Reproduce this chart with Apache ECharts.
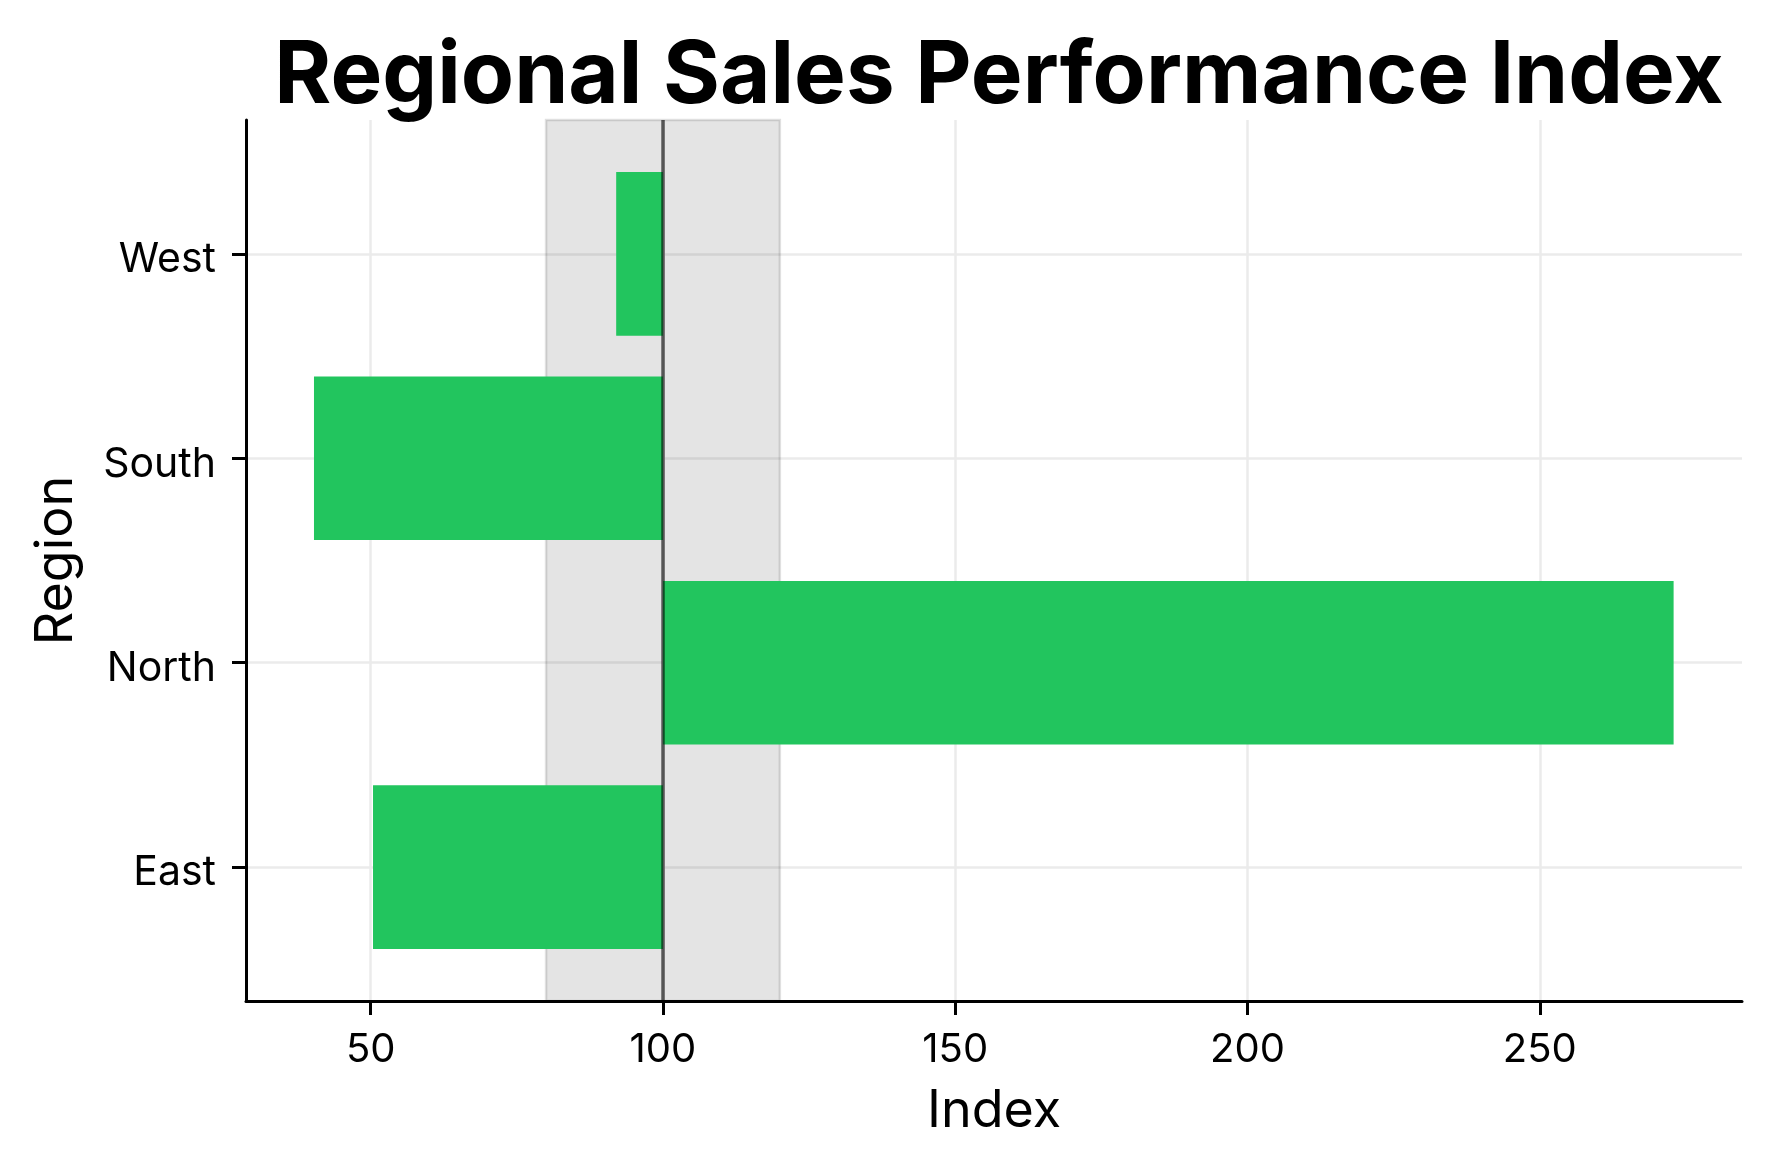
<!DOCTYPE html>
<html>
<head>
<meta charset="utf-8">
<title>Regional Sales Performance Index</title>
<script src="https://cdn.jsdelivr.net/npm/echarts@6/dist/echarts.min.js"></script>
<style>
html,body{margin:0;padding:0;background:#fff;}
#main{width:1772px;height:1169px;}
</style>
</head>
<body>
<div id="main"></div>
<script>
// data
var regions = ['East', 'North', 'South', 'West'];
var indexValues = [50.4, 272.9, 40.3, 92.0];
var baseline = 100;
var bandRange = [80, 120];
var xTicks = [50, 100, 150, 200, 250];
var yTicks = [0, 1, 2, 3];

var FONT = 'Inter, "Open Sans", sans-serif';

var myChart = echarts.init(document.getElementById('main'), null, {renderer: 'canvas'});

// bar rows [value, category index]
var barData = [];
for (var i = 0; i < regions.length; i++) {
	barData.push([indexValues[i], i]);
}

// bars grow from the baseline (100), not from the axis start
function renderBar(params, api) {
	var v = api.value(0);
	var y = api.value(1);
	var start = api.coord([baseline, y]);
	var end = api.coord([v, y]);
	var h = api.size([0, 0.8])[1];
	return {
		type: 'rect',
		shape: {
			x: Math.min(start[0], end[0]),
			y: start[1] - h / 2,
			width: Math.abs(end[0] - start[0]),
			height: h
		},
		style: api.style()
	};
}

var option = {
	backgroundColor: '#ffffff',
	animation: false,
	title: {
		text: 'Regional Sales Performance Index',
		left: 994,
		textAlign: 'center',
		top: 28,
		textStyle: {
			fontFamily: FONT,
			fontWeight: 'bold',
			fontSize: 87,
			color: '#000'
		}
	},
	grid: {
		left: 246,
		right: 30,
		top: 120,
		bottom: 168,
		containLabel: false
	},
	xAxis: {
		type: 'value',
		min: 28.67,
		max: 284.6,
		name: 'Index',
		nameLocation: 'middle',
		nameGap: 84,
		nameTextStyle: {fontFamily: FONT, fontSize: 52, color: '#000'},
		axisLine: {show: true, onZero: false, lineStyle: {color: '#000', width: 3}},
		axisTick: {show: true, length: 14, lineStyle: {color: '#000', width: 3}, customValues: xTicks},
		axisLabel: {
			fontFamily: FONT, fontSize: 40, color: '#000', margin: 29,
			customValues: xTicks
		},
		splitLine: {show: true, lineStyle: {color: '#ebebeb', width: 2.5}}
	},
	yAxis: {
		type: 'value',
		min: -0.655,
		max: 3.655,
		name: 'Region',
		nameLocation: 'middle',
		nameGap: 164,
		nameRotate: 90,
		nameTextStyle: {fontFamily: FONT, fontSize: 52, color: '#000'},
		axisLine: {show: true, onZero: false, lineStyle: {color: '#000', width: 3}},
		axisTick: {show: true, length: 14, lineStyle: {color: '#000', width: 3}, customValues: yTicks},
		axisLabel: {
			color: '#000', margin: 30,
			customValues: yTicks,
			formatter: function (v) { return '{r|' + regions[Math.round(v)] + '}'; },
			rich: {
				r: {fontFamily: FONT, fontSize: 41, color: '#000', padding: [12, 0, 0, 0]}
			}
		},
		splitLine: {show: true, lineStyle: {color: '#ebebeb', width: 2.5}}
	},
	series: [
		{
			// shaded target band
			name: 'band',
			type: 'line',
			data: [],
			z: 1,
			silent: true,
			markArea: {
				silent: true,
				itemStyle: {
					color: 'rgba(0,0,0,0.105)',
					borderColor: 'rgba(0,0,0,0.12)',
					borderWidth: 2.5
				},
				data: [[{xAxis: bandRange[0]}, {xAxis: bandRange[1]}]]
			}
		},
		{
			name: 'Index',
			type: 'custom',
			renderItem: renderBar,
			encode: {x: 0, y: 1},
			data: barData,
			z: 2,
			itemStyle: {color: '#22c55e'}
		},
		{
			// baseline marker
			name: 'baseline',
			type: 'line',
			data: [],
			z: 3,
			silent: true,
			markLine: {
				silent: true,
				symbol: ['none', 'none'],
				label: {show: false},
				lineStyle: {color: 'rgba(0,0,0,0.6)', width: 3.5, type: 'solid'},
				data: [{xAxis: baseline}]
			}
		}
	]
};

myChart.setOption(option);
</script>
</body>
</html>
